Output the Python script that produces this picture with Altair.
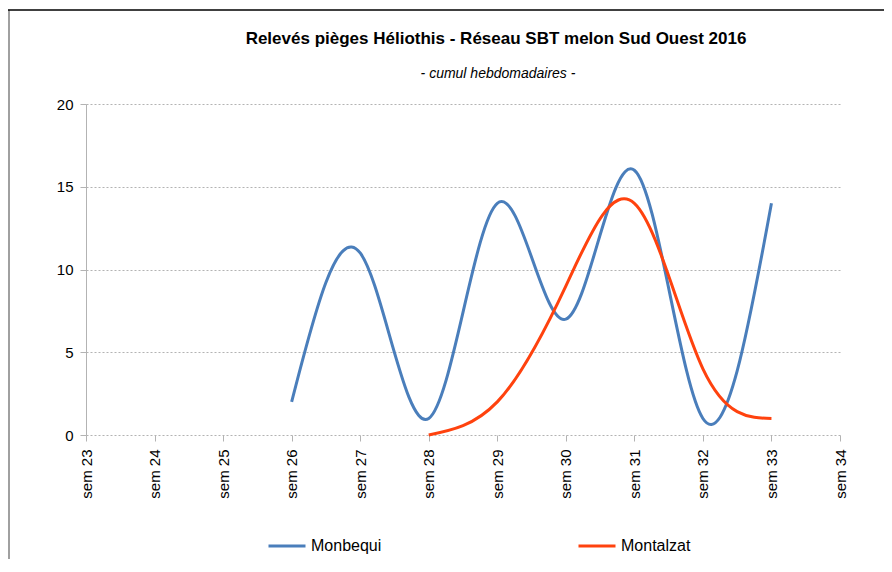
import altair as alt
import pandas as pd

weeks = ["sem 23", "sem 24", "sem 25", "sem 26", "sem 27", "sem 28",
         "sem 29", "sem 30", "sem 31", "sem 32", "sem 33", "sem 34"]

monbequi_weeks = ["sem 26", "sem 27", "sem 28", "sem 29", "sem 30", "sem 31", "sem 32", "sem 33"]
monbequi_values = [2, 11, 1, 14, 7, 16, 1, 14]

montalzat_weeks = ["sem 28", "sem 29", "sem 30", "sem 31", "sem 32", "sem 33"]
montalzat_values = [0, 2, 9, 14, 4, 1]

series_names = ["Monbequi", "Montalzat"]
series_colors = ["#4a7ebb", "#ff420e"]

title_text = "Relevés pièges Héliothis - Réseau SBT melon Sud Ouest 2016"
subtitle_text = "- cumul hebdomadaires -"

rows = []
for w, v in zip(monbequi_weeks, monbequi_values):
    rows.append({"semaine": w, "valeur": v, "site": "Monbequi"})
for w, v in zip(montalzat_weeks, montalzat_values):
    rows.append({"semaine": w, "valeur": v, "site": "Montalzat"})
df = pd.DataFrame(rows)

W, H = 754, 331

lines = alt.Chart(df).mark_line(interpolate="natural", strokeWidth=3).encode(
    x=alt.X("semaine:N", sort=weeks,
            scale=alt.Scale(domain=weeks, type="point", padding=0),
            axis=alt.Axis(title=None, labelAngle=-90, labelAlign="right", labelBaseline="middle",
                          labelFontSize=15, labelColor="#000000", labelPadding=8,
                          domain=False, ticks=True, tickSize=6, tickColor="#b3b3b3",
                          grid=False, labelFont="Liberation Sans")),
    y=alt.Y("valeur:Q", scale=alt.Scale(domain=[0, 20], nice=False),
            axis=alt.Axis(title=None, values=[0, 5, 10, 15, 20], labelFontSize=15,
                          labelColor="#000000", labelPadding=7, tickSize=6,
                          tickColor="#b3b3b3", domain=True, domainColor="#b3b3b3",
                          grid=True, gridColor="#b3b3b3", gridDash=[2, 2],
                          labelFont="Liberation Sans")),
    color=alt.Color("site:N", scale=alt.Scale(domain=series_names, range=series_colors),
                    legend=alt.Legend(title=None, orient="none", legendX=181, legendY=422,
                                      direction="horizontal", symbolType="stroke",
                                      symbolSize=1369, symbolStrokeWidth=3,
                                      labelFontSize=16, labelFont="Liberation Sans",
                                      labelColor="#000000", labelOffset=4,
                                      columnPadding=190)),
    detail="site:N",
)

one = pd.DataFrame({"t": [title_text], "s": [subtitle_text]})

title = alt.Chart(one).mark_text(fontSize=17, fontWeight="bold", font="Liberation Sans",
                                 align="center", baseline="alphabetic", color="#000000").encode(
    text="t:N", x=alt.value(410), y=alt.value(-60))
subtitle = alt.Chart(one).mark_text(fontSize=14, fontStyle="italic", font="Liberation Sans",
                                    align="center", baseline="alphabetic", color="#000000").encode(
    text="s:N", x=alt.value(412), y=alt.value(-26))

frame_left = alt.Chart(one).mark_rule(color="#808080", strokeWidth=1.5).encode(
    x=alt.value(-77), y=alt.value(-94), y2=alt.value(470))
frame_top = alt.Chart(one).mark_rule(color="#000000", strokeWidth=1.5).encode(
    x=alt.value(-78), x2=alt.value(810), y=alt.value(-94))

chart = alt.layer(frame_left, frame_top, lines, title, subtitle).properties(
    width=W, height=H,
    autosize=alt.AutoSizeParams(type="none"),
    padding={"left": 78, "top": 96, "right": 44, "bottom": 124},
).configure(font="Liberation Sans").configure_view(strokeWidth=0)

chart.save("out.html", embed_options={"renderer": "svg", "actions": False})
